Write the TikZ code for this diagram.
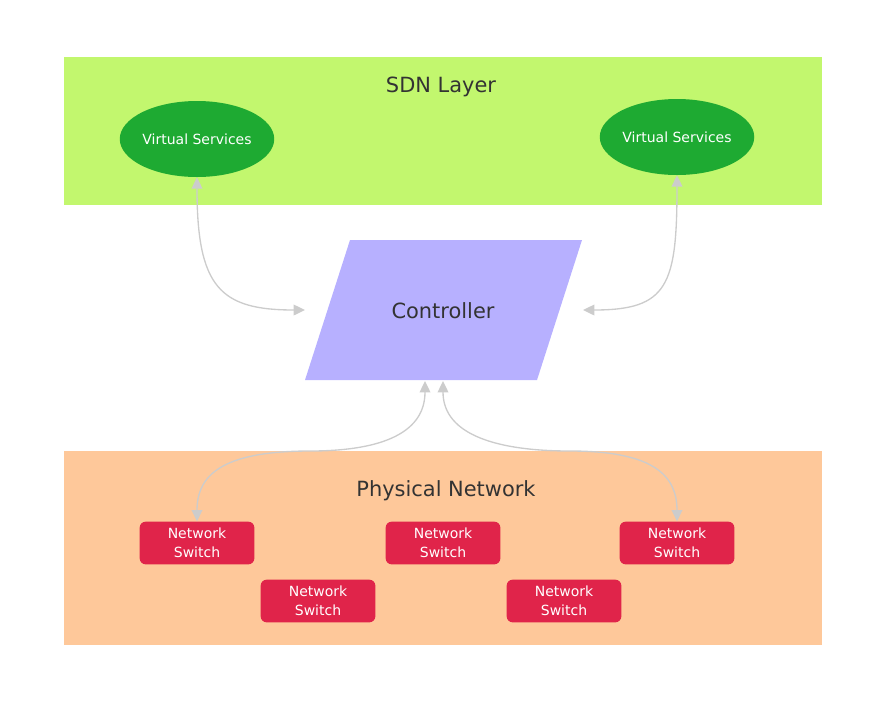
\documentclass[tikz,border=0pt]{standalone}
\usepackage{fontspec}
\setmainfont{DejaVu Sans}
\usepackage{xcolor}
\usetikzlibrary{shapes.geometric,arrows.meta}

\definecolor{sdngreen}{RGB}{194,247,110}
\definecolor{vsgreen}{RGB}{30,170,50}
\definecolor{ctrlblue}{RGB}{183,176,255}
\definecolor{physorange}{RGB}{254,200,154}
\definecolor{switchred}{RGB}{224,36,74}
\definecolor{linkgray}{RGB}{204,204,204}
\definecolor{labelgray}{RGB}{51,51,51}

\begin{document}
\begin{tikzpicture}[x=0.75pt,y=-0.75pt,>={Triangle[length=8.5pt,width=8pt]}]
    \tikzstyle{layertitle}=[text=labelgray,font=\fontsize{15.7}{18}\selectfont]
    \tikzstyle{vsnode}=[ellipse,fill=vsgreen,text=white,minimum width=114pt,minimum height=57pt,inner sep=0pt,font=\fontsize{10.5}{13}\selectfont]
    \tikzstyle{swnode}=[rectangle,rounded corners=4.5pt,fill=switchred,text=white,minimum width=86pt,minimum height=32pt,inner sep=0pt,align=center,font=\fontsize{10.5}{14}\selectfont]
    \tikzstyle{link}=[<->,draw=linkgray,line width=1pt]

    \useasboundingbox (0,0) rectangle (887,704);

    
    \fill[sdngreen] (64,57) rectangle (822,205);
    \fill[physorange] (64,451) rectangle (822,645);
    \fill[ctrlblue] (350,240) -- (582,240) -- (537,380) -- (305,380) -- cycle;

    
    \node[layertitle] (sdn) at (441,87) {SDN Layer};
    \node[layertitle] (ctrl) at (443,311) {Controller};
    \node[layertitle] (phys) at (446,491) {Physical Network};

    \node[vsnode] (vs1) at (197,139) {Virtual Services};
    \node[vsnode] (vs2) at (677,137) {Virtual Services};

    \node[swnode] (sw1) at (197,543) {Network\\Switch};
    \node[swnode] (sw2) at (443,543) {Network\\Switch};
    \node[swnode] (sw3) at (677,543) {Network\\Switch};
    \node[swnode] (sw4) at (318,601) {Network\\Switch};
    \node[swnode] (sw5) at (564,601) {Network\\Switch};

    
    \coordinate (c-l) at (305,310);
    \coordinate (c-r) at (583,310);
    \coordinate (c-bl) at (425,381);
    \coordinate (c-br) at (443,381);
    \coordinate (m-l) at (310,451);
    \coordinate (m-r) at (570,451);

    \draw[link] (vs1.south) .. controls +(0,110) and +(-85,0) .. (c-l);
    \draw[link] (vs2.south) .. controls +(0,110) and +(85,0) .. (c-r);
    \draw[link] (c-bl) .. controls +(0,55) and +(65,0) .. (m-l)
        .. controls +(-90,0) and +(0,-45) .. (sw1.north);
    \draw[link] (c-br) .. controls +(0,55) and +(-70,0) .. (m-r)
        .. controls +(85,0) and +(0,-45) .. (sw3.north);
\end{tikzpicture}
\end{document}
